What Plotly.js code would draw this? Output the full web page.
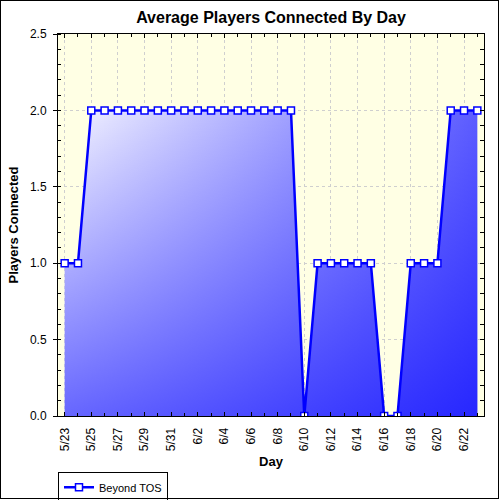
<!DOCTYPE html>
<html>
<head>
<meta charset="utf-8">
<script src="https://cdn.plot.ly/plotly-3.0.1.min.js"></script>
<style>
  html, body { margin: 0; padding: 0; background: #ffffff; }
  #wrap { position: relative; width: 500px; height: 500px; }
  #chart { position: absolute; left: 0; top: 0; width: 500px; height: 500px; }
  #frame { position: absolute; left: 0; top: 0; width: 499px; height: 499px; box-sizing: border-box; border: 1px solid #000; pointer-events: none; }
</style>
</head>
<body>
<div id="wrap"><div id="chart"></div><div id="frame"></div></div>
<script>
const days = ["5/23","5/24","5/25","5/26","5/27","5/28","5/29","5/30","5/31","6/1","6/2","6/3","6/4","6/5","6/6","6/7","6/8","6/9","6/10","6/11","6/12","6/13","6/14","6/15","6/16","6/17","6/18","6/19","6/20","6/21","6/22","6/23"];
const players = [1,1,2,2,2,2,2,2,2,2,2,2,2,2,2,2,2,2,0,1,1,1,1,1,0,0,1,1,1,2,2,2];
const seriesName = "Beyond TOS";
const yTicks = [0, 0.5, 1.0, 1.5, 2.0, 2.5];

const x = days.map((d, i) => i);
const tickIdx = x.filter(i => i % 2 === 0);
const tickText = tickIdx.map(i => days[i]);

const FONT = "Liberation Sans, Arial, sans-serif";

const traces = [
  {
    x: x, y: players, type: "scatter", mode: "none", fill: "tozeroy",
    fillgradient: { type: "horizontal", start: 0, stop: x.length - 1,
      colorscale: [[0, "rgb(244,244,255)"], [1, "rgb(92,92,255)"]] },
    showlegend: false, hoverinfo: "skip"
  },
  {
    x: x, y: players, type: "scatter", mode: "none", fill: "tozeroy",
    fillgradient: { type: "vertical", start: 0, stop: 2,
      colorscale: [[0, "rgba(0,0,255,0.58)"], [1, "rgba(0,0,255,0)"]] },
    showlegend: false, hoverinfo: "skip"
  },
  {
    x: x, y: players, type: "scatter", mode: "lines+markers", name: seriesName,
    yaxis: "y2",
    line: { color: "#0000ff", width: 2.5 },
    marker: { symbol: "square", size: 7, color: "#ffffff", line: { color: "#0000ff", width: 1.5 } }
  }
];

const layout = {
  width: 500, height: 500,
  paper_bgcolor: "rgba(0,0,0,0)",
  plot_bgcolor: "#ffffe4",
  margin: { l: 58, r: 16, t: 34, b: 84, autoexpand: false },
  font: { family: FONT, color: "#000000" },
  title: { text: "Average Players Connected By Day", x: 0.542, xanchor: "center", y: 1 - 17/500, yanchor: "middle",
    font: { family: FONT, size: 16, weight: "bold", color: "#000000" } },
  showlegend: true,
  legend: { x: 0, xanchor: "left", y: -0.146, yanchor: "top", bgcolor: "#ffffff",
    bordercolor: "#000000", borderwidth: 1, font: { family: FONT, size: 11, color: "#000000" }, itemwidth: 30 },
  xaxis: {
    range: [-0.5, x.length - 0.5], tickmode: "array", tickvals: tickIdx, ticktext: tickText,
    tickangle: -90, ticks: "inside", ticklen: 4, tickcolor: "#000000",
    showline: true, linecolor: "#000000", linewidth: 1, mirror: "ticks",
    showgrid: true, gridcolor: "#cfcfcf", griddash: "dot", gridwidth: 1, zeroline: false,
    minor: { ticks: "inside", ticklen: 3, tickmode: "linear", tick0: 0, dtick: 1, tickcolor: "#000000", showgrid: false },
    tickfont: { family: FONT, size: 12, color: "#000000" }, ticklabelstandoff: 6,
    title: { text: "Day", font: { family: FONT, size: 13, weight: "bold", color: "#000000" }, standoff: 6 },
    automargin: false, fixedrange: true
  },
  yaxis: {
    range: [0, 2.5], tickmode: "array", tickvals: yTicks, tickformat: ".1f",
    ticks: "outside", ticklen: 4, tickcolor: "#000000",
    showline: true, linecolor: "#000000", linewidth: 1, mirror: false,
    showgrid: true, gridcolor: "#cfcfcf", griddash: "dot", gridwidth: 1, zeroline: false,
    minor: { ticks: "inside", ticklen: 3, tickmode: "linear", tick0: 0, dtick: 0.1, tickcolor: "#000000", showgrid: false },
    tickfont: { family: FONT, size: 12, color: "#000000" }, ticklabelstandoff: 4,
    title: { text: "Players Connected", font: { family: FONT, size: 13, weight: "bold", color: "#000000" }, standoff: 8 },
    automargin: false, fixedrange: true
  },
  yaxis2: {
    overlaying: "y", side: "right", range: [0, 2.5], tickmode: "array", tickvals: yTicks,
    ticks: "inside", ticklen: 4, tickcolor: "#000000", showticklabels: false,
    showline: true, linecolor: "#000000", linewidth: 1, showgrid: false, zeroline: false,
    minor: { ticks: "inside", ticklen: 4, tickmode: "linear", tick0: 0, dtick: 0.1, tickcolor: "#000000", showgrid: false },
    fixedrange: true
  }
};

Plotly.newPlot("chart", traces, layout, { displayModeBar: false, staticPlot: true });
</script>
</body>
</html>
